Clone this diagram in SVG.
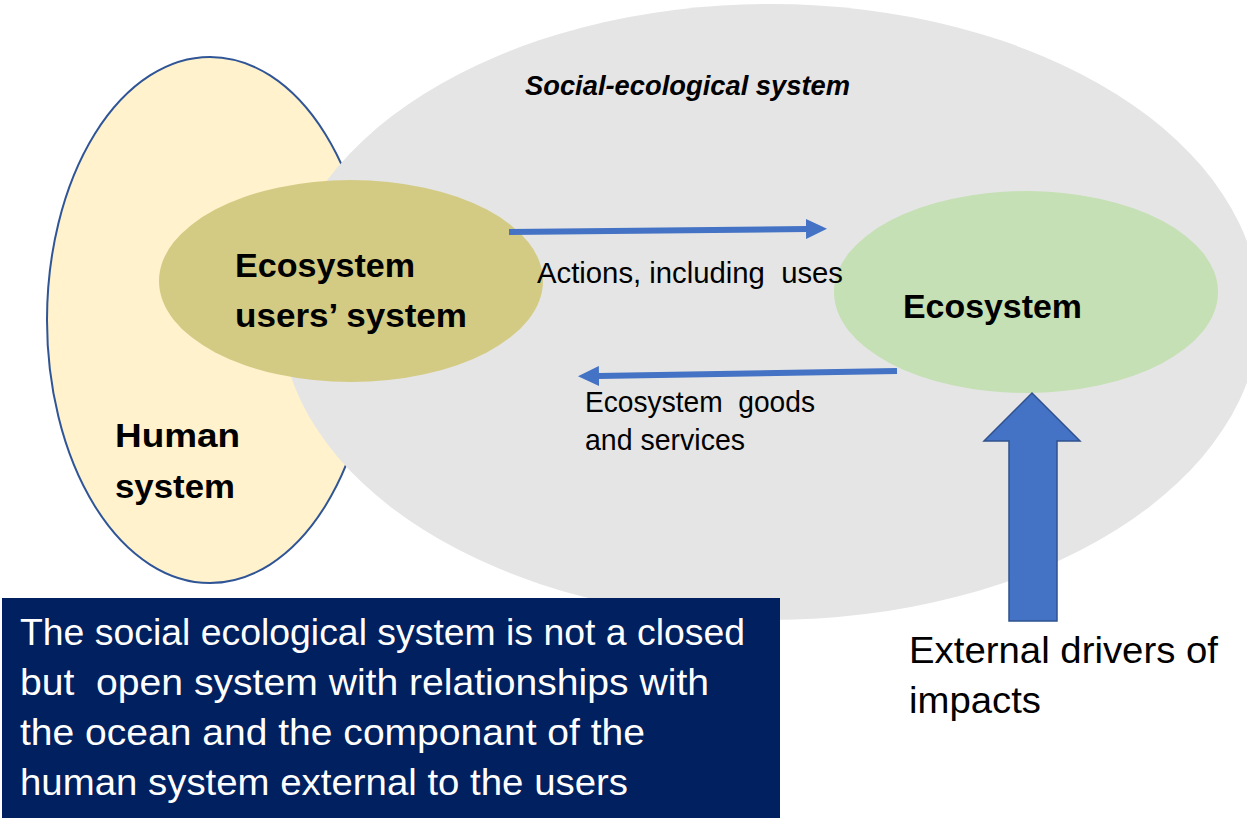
<svg xmlns="http://www.w3.org/2000/svg" width="1247" height="818" viewBox="0 0 1247 818">
  <style>
    .lbl { font-family: "Liberation Sans", Arial, sans-serif; fill: #000; }
    .bold { font-weight: bold; font-size: 34px; }
    .small { font-size: 29px; white-space: pre; }
    .big { font-size: 37px; }
    .note { font-family: "Liberation Sans", Arial, sans-serif; font-size: 37px; fill: #fff; white-space: pre; }
    .thin { fill: none; stroke: #4472C4; stroke-width: 6; marker-end: url(#head); }
  </style>
  <defs>
    <marker id="head" markerUnits="userSpaceOnUse" viewBox="0 0 21 20" markerWidth="21" markerHeight="20" refX="1" refY="10" orient="auto">
      <path d="M0,0 L21,10 L0,20 z" fill="#4472C4"/>
    </marker>
  </defs>
  <rect width="1247" height="818" fill="#fff"/>

  <g id="node-human">
    <ellipse cx="210" cy="320" rx="163" ry="263" fill="#FFF2CC" stroke="#2F5597" stroke-width="2"/>
    <text class="lbl bold" x="115" y="447" font-size="35" textLength="125" lengthAdjust="spacingAndGlyphs">Human</text>
    <text class="lbl bold" x="115" y="498" font-size="35" textLength="120" lengthAdjust="spacingAndGlyphs">system</text>
  </g>

  <g id="node-social">
    <ellipse cx="770" cy="312" rx="490" ry="308" fill="#E5E5E5"/>
    <text class="lbl" x="525" y="95" font-size="27" font-weight="bold" font-style="italic" textLength="325" lengthAdjust="spacingAndGlyphs">Social-ecological system</text>
  </g>

  <g id="node-users">
    <ellipse cx="351" cy="281" rx="192" ry="101" fill="#D3CB84"/>
    <text class="lbl bold" x="235" y="277" textLength="180" lengthAdjust="spacingAndGlyphs">Ecosystem</text>
    <text class="lbl bold" x="235" y="327" textLength="232" lengthAdjust="spacingAndGlyphs">users’ system</text>
  </g>

  <g id="node-ecosystem">
    <ellipse cx="1026" cy="292" rx="192" ry="101" fill="#C5E0B4"/>
    <text class="lbl bold" x="903" y="318" textLength="179" lengthAdjust="spacingAndGlyphs">Ecosystem</text>
  </g>

  <g id="connectors">
    <path class="thin" d="M509,232 L807,229"/>
    <text class="lbl small" x="537" y="283" textLength="306" lengthAdjust="spacingAndGlyphs">Actions, including  uses</text>
    <path class="thin" d="M897,371 L598,376"/>
    <text class="lbl small" x="585" y="412" textLength="230" lengthAdjust="spacingAndGlyphs">Ecosystem  goods</text>
    <text class="lbl small" x="585" y="450" textLength="160" lengthAdjust="spacingAndGlyphs">and services</text>
    <polygon points="1032,393 1080,441 1057,441 1057,621 1009,621 1009,441 984,441" fill="#4472C4" stroke="#2F528F" stroke-width="1.5"/>
    <text class="lbl big" x="909" y="663" textLength="309" lengthAdjust="spacingAndGlyphs">External drivers of</text>
    <text class="lbl big" x="909" y="713" textLength="132" lengthAdjust="spacingAndGlyphs">impacts</text>
  </g>

  <g id="node-note">
    <rect x="2" y="598" width="778" height="220" fill="#002060"/>
    <text class="note" x="20" y="645" textLength="725" lengthAdjust="spacingAndGlyphs">The social ecological system is not a closed</text>
    <text class="note" x="20" y="695" textLength="689" lengthAdjust="spacingAndGlyphs">but  open system with relationships with</text>
    <text class="note" x="20" y="745" textLength="625" lengthAdjust="spacingAndGlyphs">the ocean and the componant of the</text>
    <text class="note" x="20" y="795" textLength="608" lengthAdjust="spacingAndGlyphs">human system external to the users</text>
  </g>
</svg>
